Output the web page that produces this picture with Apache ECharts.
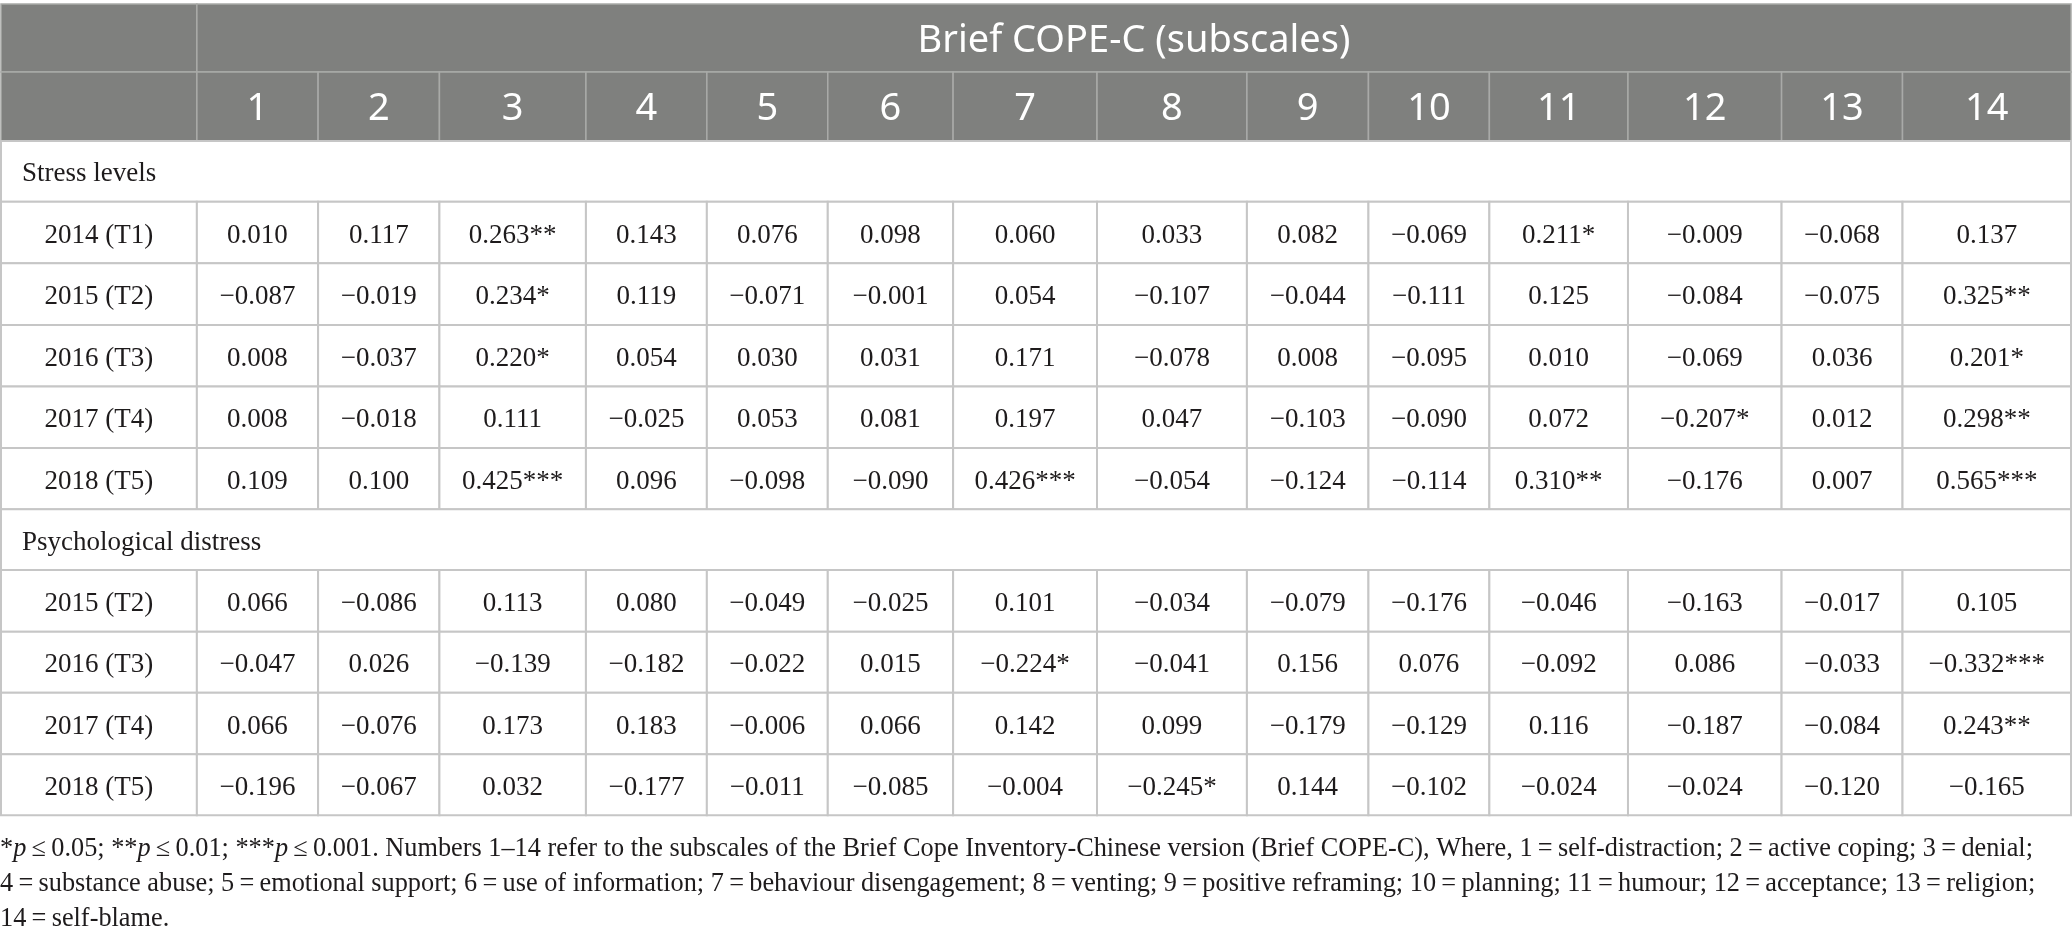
<!DOCTYPE html>
<html><head><meta charset="utf-8">
<script src="https://cdn.jsdelivr.net/npm/echarts@6/dist/echarts.min.js"></script>
<style>html,body{margin:0;padding:0;background:#fff}#c{width:2072px;height:943px}</style>
</head><body><div id="c"></div>
<script>
// ---------- data ----------
const headerTitle = 'Brief COPE-C (subscales)';
const subscales = ['1','2','3','4','5','6','7','8','9','10','11','12','13','14'];

const stressLabel = 'Stress levels';
const stressYears = ['2014 (T1)','2015 (T2)','2016 (T3)','2017 (T4)','2018 (T5)'];
const stressT1 = [0.010, 0.117, 0.263, 0.143, 0.076, 0.098, 0.060, 0.033, 0.082, -0.069, 0.211, -0.009, -0.068, 0.137];
const stressT2 = [-0.087, -0.019, 0.234, 0.119, -0.071, -0.001, 0.054, -0.107, -0.044, -0.111, 0.125, -0.084, -0.075, 0.325];
const stressT3 = [0.008, -0.037, 0.220, 0.054, 0.030, 0.031, 0.171, -0.078, 0.008, -0.095, 0.010, -0.069, 0.036, 0.201];
const stressT4 = [0.008, -0.018, 0.111, -0.025, 0.053, 0.081, 0.197, 0.047, -0.103, -0.090, 0.072, -0.207, 0.012, 0.298];
const stressT5 = [0.109, 0.100, 0.425, 0.096, -0.098, -0.090, 0.426, -0.054, -0.124, -0.114, 0.310, -0.176, 0.007, 0.565];
const stressSigT1 = ['','','**','','','','','','','','*','','',''];
const stressSigT2 = ['','','*','','','','','','','','','','','**'];
const stressSigT3 = ['','','*','','','','','','','','','','','*'];
const stressSigT4 = ['','','','','','','','','','','','*','','**'];
const stressSigT5 = ['','','***','','','','***','','','','**','','','***'];

const distressLabel = 'Psychological distress';
const distressYears = ['2015 (T2)','2016 (T3)','2017 (T4)','2018 (T5)'];
const distressT2 = [0.066, -0.086, 0.113, 0.080, -0.049, -0.025, 0.101, -0.034, -0.079, -0.176, -0.046, -0.163, -0.017, 0.105];
const distressT3 = [-0.047, 0.026, -0.139, -0.182, -0.022, 0.015, -0.224, -0.041, 0.156, 0.076, -0.092, 0.086, -0.033, -0.332];
const distressT4 = [0.066, -0.076, 0.173, 0.183, -0.006, 0.066, 0.142, 0.099, -0.179, -0.129, 0.116, -0.187, -0.084, 0.243];
const distressT5 = [-0.196, -0.067, 0.032, -0.177, -0.011, -0.085, -0.004, -0.245, 0.144, -0.102, -0.024, -0.024, -0.120, -0.165];
const distressSigT2 = ['','','','','','','','','','','','','',''];
const distressSigT3 = ['','','','','','','*','','','','','','','***'];
const distressSigT4 = ['','','','','','','','','','','','','','**'];
const distressSigT5 = ['','','','','','','','*','','','','','',''];

const TS = '\u2009';
const footLine1 = ['*','p',TS+'\u2264'+TS+'0.05; **','p',TS+'\u2264'+TS+'0.01; ***','p',TS+'\u2264'+TS+'0.001. Numbers 1\u201314 refer to the subscales of the Brief Cope Inventory-Chinese version (Brief COPE-C), Where, 1'+TS+'='+TS+'self-distraction; 2'+TS+'='+TS+'active coping; 3'+TS+'='+TS+'denial;'];
const footLine2 = '4'+TS+'='+TS+'substance abuse; 5'+TS+'='+TS+'emotional support; 6'+TS+'='+TS+'use of information; 7'+TS+'='+TS+'behaviour disengagement; 8'+TS+'='+TS+'venting; 9'+TS+'='+TS+'positive reframing; 10'+TS+'='+TS+'planning; 11'+TS+'='+TS+'humour; 12'+TS+'='+TS+'acceptance; 13'+TS+'='+TS+'religion;';
const footLine3 = '14'+TS+'='+TS+'self-blame.';

// ---------- layout (not data) ----------
const colWidths = [196, 121.3, 121.4, 146.6, 121, 121, 125.4, 144, 150, 121.6, 121, 138.7, 153.7, 121, 168.6];
const rowHeights = [68, 69, 60.7, 61.6, 61.7, 61.5, 61.5, 61.3, 60.7, 61.7, 61, 61.6, 61];
const footTargetWidth = 2036; // width of the second footnote line in the reference

const colEdges = [0]; colWidths.forEach(w => colEdges.push(colEdges[colEdges.length-1] + w));
const rowEdges = [0]; rowHeights.forEach(h => rowEdges.push(rowEdges[rowEdges.length-1] + h));
const totalW = colEdges[colEdges.length-1], totalH = rowEdges[rowEdges.length-1];

// footnote font size fitted to the reference line width
const mctx = document.createElement('canvas').getContext('2d');
mctx.font = '100px "Liberation Serif"';
const footFont = Math.min(27, 100 * footTargetWidth / mctx.measureText(footLine2).width);

function fmt(v) { return (v < 0 ? '\u2212' : '') + Math.abs(v).toFixed(3); }

// ---------- cells ----------
const cells = [];
function addCell(c0, c1, r, text, kind) { cells.push({c0, c1, r, text, kind}); }

addCell(0, 1, 0, '', 'head');
addCell(1, 15, 0, headerTitle, 'head');
addCell(0, 1, 1, '', 'head');
subscales.forEach((s, i) => addCell(i+1, i+2, 1, s, 'head'));

let row = 2;
addCell(0, 15, row++, stressLabel, 'section');
const stressRows = [stressT1, stressT2, stressT3, stressT4, stressT5];
const stressSigs = [stressSigT1, stressSigT2, stressSigT3, stressSigT4, stressSigT5];
stressRows.forEach((vals, k) => {
  addCell(0, 1, row, stressYears[k], 'body');
  vals.forEach((v, i) => addCell(i+1, i+2, row, fmt(v) + stressSigs[k][i], 'body'));
  row++;
});
addCell(0, 15, row++, distressLabel, 'section');
const distressRows = [distressT2, distressT3, distressT4, distressT5];
const distressSigs = [distressSigT2, distressSigT3, distressSigT4, distressSigT5];
distressRows.forEach((vals, k) => {
  addCell(0, 1, row, distressYears[k], 'body');
  vals.forEach((v, i) => addCell(i+1, i+2, row, fmt(v) + distressSigs[k][i], 'body'));
  row++;
});

const seriesData = cells.map(c => [colEdges[c.c0], rowEdges[c.r], colEdges[c.c1], rowEdges[c.r+1]]);

function renderItem(params, api) {
  const c = cells[params.dataIndex];
  const p0 = api.coord([api.value(0), api.value(1)]);
  const p1 = api.coord([api.value(2), api.value(3)]);
  const x = p0[0], y = p0[1], w = p1[0] - p0[0], h = p1[1] - p0[1];
  const head = c.kind === 'head';
  const children = [{
    type: 'rect',
    shape: {x, y, width: w, height: h},
    style: {fill: head ? '#7f807e' : '#ffffff', stroke: head ? '#a9aaa8' : '#c6c6c6', lineWidth: head ? 1.5 : 2}
  }];
  if (c.text) {
    children.push({
      type: 'text',
      style: {
        text: c.text,
        x: c.kind === 'section' ? x + 21 : x + w / 2,
        y: y + h / 2 + 3,
        align: c.kind === 'section' ? 'left' : 'center',
        verticalAlign: 'middle',
        fill: head ? '#ffffff' : '#1e1b1c',
        fontFamily: head ? 'Noto Sans' : 'Liberation Serif',
        fontSize: head ? 38 : 27
      }
    });
  }
  return {type: 'group', children};
}

const chart = echarts.init(document.getElementById('c'), null, {renderer: 'canvas'});
chart.setOption({
  animation: false,
  backgroundColor: '#ffffff',
  title: {
    left: 0, top: 832, padding: 0,
    text: '{a|' + footLine1[0] + '}{i|' + footLine1[1] + '}{a|' + footLine1[2] + '}{i|' + footLine1[3] + '}{a|' + footLine1[4] + '}{i|' + footLine1[5] + '}{a|' + footLine1[6] + '}\n{a|' + footLine2 + '}\n{a|' + footLine3 + '}',
    textStyle: {
      fontFamily: 'Liberation Serif', fontSize: footFont, fontWeight: 'normal', color: '#1e1b1c', lineHeight: 35,
      rich: {
        a: {fontFamily: 'Liberation Serif', fontSize: footFont, color: '#1e1b1c', lineHeight: 35},
        i: {fontFamily: 'Liberation Serif', fontSize: footFont, fontStyle: 'italic', color: '#1e1b1c', lineHeight: 35}
      }
    }
  },
  grid: {left: 1, top: 4, width: 2070, height: totalH, containLabel: false},
  xAxis: {type: 'value', min: 0, max: totalW, show: false},
  yAxis: {type: 'value', min: 0, max: totalH, inverse: true, show: false},
  series: [{
    type: 'custom',
    coordinateSystem: 'cartesian2d',
    renderItem,
    data: seriesData,
    encode: {x: [0, 2], y: [1, 3]},
    silent: true,
    clip: false
  }]
});
</script></body></html>
